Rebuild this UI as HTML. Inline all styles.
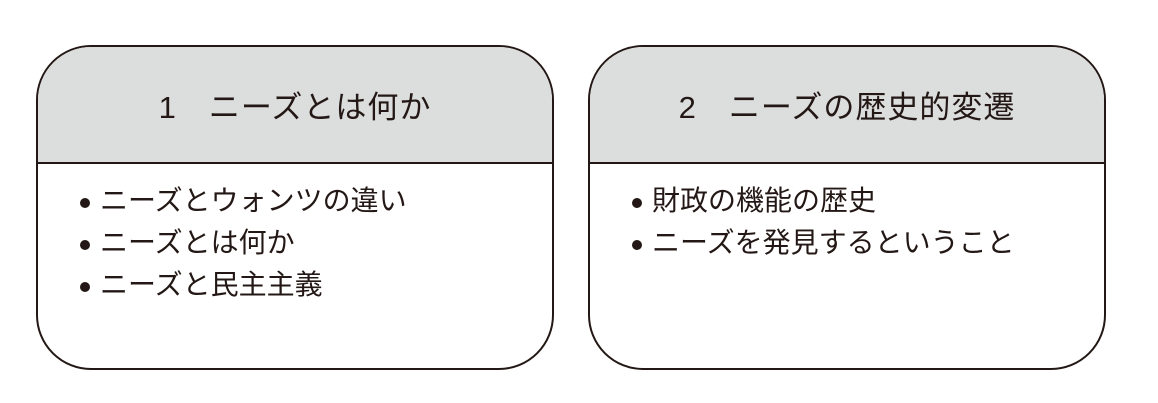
<!DOCTYPE html>
<html><head><meta charset="utf-8"><style>
body{margin:0;width:1158px;height:403px;background:#fff;position:relative;font-family:"Liberation Sans","Noto Sans CJK JP",sans-serif;color:#231815;overflow:hidden}
.box{position:absolute;top:45px;width:518px;height:325px;border:2.5px solid #231815;border-radius:55px;overflow:hidden;box-sizing:border-box;background:#fff}
.hd{height:115px;background:#dcdddd;border-bottom:2.5px solid #231815;display:flex;align-items:center;justify-content:center;font-size:31px;letter-spacing:1px}
ul{list-style:none;margin:0;padding:0;position:absolute;top:136px;left:38px}
li{font-size:28px;height:42px;line-height:36px;position:relative;padding-left:24px}
li:before{content:"";position:absolute;left:4px;top:15px;width:10px;height:10px;border-radius:50%;background:#231815}
</style></head><body>
<div class="box" style="left:36px"><div class="hd">1　ニーズとは何か</div>
<ul><li>ニーズとウォンツの違い</li><li>ニーズとは何か</li><li>ニーズと民主主義</li></ul></div>
<div class="box" style="left:588px"><div class="hd">2　ニーズの歴史的変遷</div>
<ul><li>財政の機能の歴史</li><li>ニーズを発見するということ</li></ul></div>
</body></html>
